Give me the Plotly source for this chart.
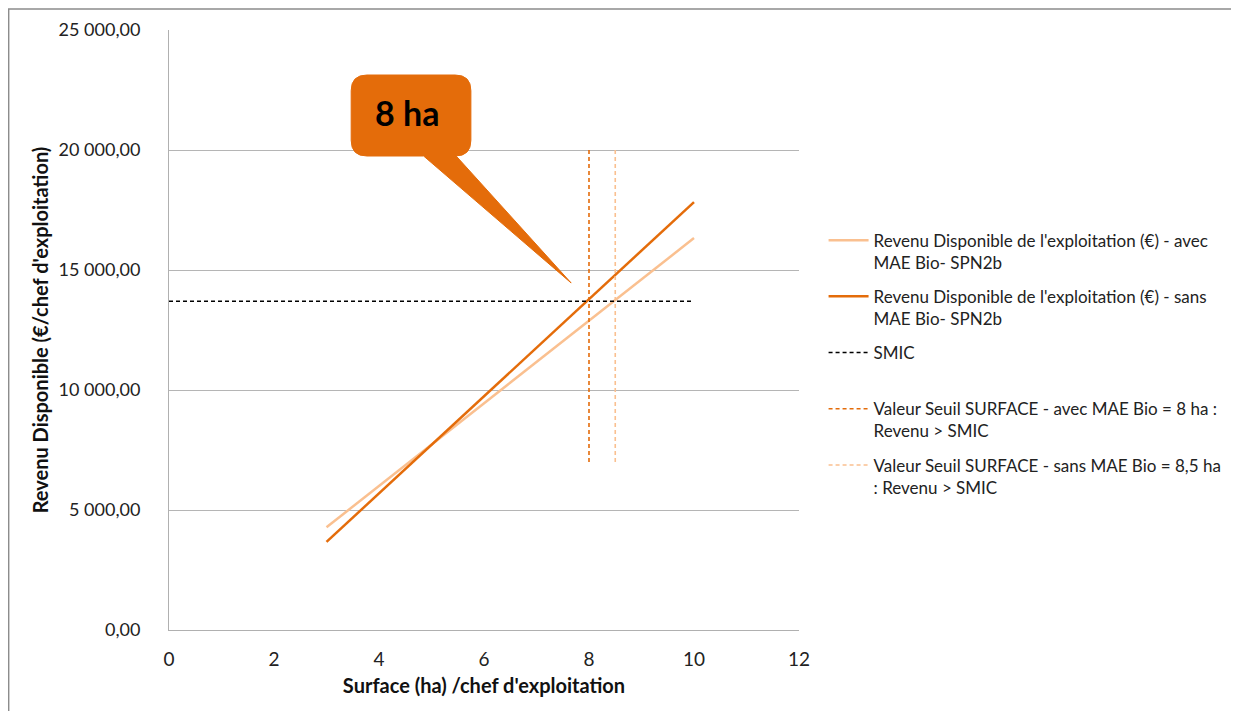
import plotly.graph_objects as go

# ---- data ----
surface = [3, 10]
revenu_avec = [4280, 16330]
revenu_sans = [3670, 17830]
smic_x = [0, 10]
smic_y = [13700, 13700]
seuil_avec_x = [8, 8]
seuil_sans_x = [8.5, 8.5]
seuil_y = [7000, 20000]
x_ticks = [0, 2, 4, 6, 8, 10, 12]
y_ticks = [0, 5000, 10000, 15000, 20000, 25000]
callout_text = "8 ha"
callout_tip = (7.66, 14460)

DARK = "#E46C0A"
LIGHT = "#FAC090"
FONT = "Lato"

names = [
    "Revenu Disponible de l'exploitation (€) - avec<br>MAE Bio- SPN2b",
    "Revenu Disponible de l'exploitation (€) - sans<br>MAE Bio- SPN2b",
    "SMIC<br>&nbsp;",
    "Valeur Seuil SURFACE - avec MAE Bio = 8 ha :<br>Revenu > SMIC",
    "Valeur Seuil SURFACE - sans MAE Bio = 8,5 ha<br>: Revenu > SMIC",
]

fig = go.Figure()
fig.add_trace(go.Scatter(x=surface, y=revenu_avec, mode="lines", name=names[0],
                         legendgroup="g1", line=dict(color=LIGHT, width=2.5)))
fig.add_trace(go.Scatter(x=surface, y=revenu_sans, mode="lines", name=names[1],
                         legendgroup="g2", line=dict(color=DARK, width=2.5)))
fig.add_trace(go.Scatter(x=smic_x, y=smic_y, mode="lines", name=names[2],
                         legendgroup="g3",
                         line=dict(color="black", width=1.6, dash="4px,3px")))
fig.add_trace(go.Scatter(x=seuil_avec_x, y=seuil_y, mode="lines", name=names[3],
                         legendgroup="g4",
                         line=dict(color=DARK, width=1.6, dash="4px,3px")))
fig.add_trace(go.Scatter(x=seuil_sans_x, y=seuil_y, mode="lines", name=names[4],
                         legendgroup="g5",
                         line=dict(color=LIGHT, width=1.6, dash="4px,3px")))

# callout shape (data coordinates)
x0, x1 = 3.47, 5.75
y0, y1 = 19750, 23125
rx, ry = 0.30, 650
bx0, bx1 = 4.85, 5.47
tx, ty = callout_tip
path = (f"M {x0+rx},{y1} L {x1-rx},{y1} Q {x1},{y1} {x1},{y1-ry} "
        f"L {x1},{y0+ry} Q {x1},{y0} {x1-rx},{y0} "
        f"L {bx1},{y0} L {tx},{ty} L {bx0},{y0} "
        f"L {x0+rx},{y0} Q {x0},{y0} {x0},{y0+ry} "
        f"L {x0},{y1-ry} Q {x0},{y1} {x0+rx},{y1} Z")
fig.add_shape(type="path", path=path, xref="x", yref="y",
              fillcolor=DARK, line=dict(color=DARK, width=1), layer="above")
fig.add_annotation(x=4.53, y=21570, xref="x", yref="y",
                   text=f"<b>{callout_text}</b>", showarrow=False,
                   font=dict(family=FONT, size=34, color="black"))

# outer border
fig.add_shape(type="rect", xref="paper", yref="paper",
              x0=-0.2545, x1=1.9, y0=-0.3, y1=1.035,
              line=dict(color="#8c8c8c", width=1.5), fillcolor="rgba(0,0,0,0)")

fig.update_layout(
    width=1231, height=703,
    margin=dict(l=161, r=440, t=22, b=81, autoexpand=False),
    paper_bgcolor="white", plot_bgcolor="white",
    separators=", ",
    font=dict(family=FONT, size=18, color="#222222"),
    showlegend=True,
    legend=dict(x=1.039, y=0.679, xanchor="left", yanchor="top",
                valign="top", font=dict(family=FONT, size=17, color="#222222"),
                itemwidth=40, tracegroupgap=9, bgcolor="rgba(0,0,0,0)"),
    xaxis=dict(range=[0, 12], tickvals=x_ticks, showgrid=False,
               showline=True, linecolor="#b0b0b0", linewidth=1,
               ticks="", zeroline=False, ticklabelstandoff=12,
               tickfont=dict(family=FONT, size=19, color="#222222"),
               title=dict(text="<b>Surface (ha) /chef d'exploitation</b>",
                          font=dict(family=FONT, size=20, color="#111111"),
                          standoff=10)),
    yaxis=dict(range=[0, 25000], tickvals=y_ticks, tickformat=",.2f",
               showgrid=True, gridcolor="#b5b5b5", gridwidth=1,
               showline=True, linecolor="#b0b0b0", linewidth=1,
               ticks="", zeroline=False, ticklabelstandoff=24,
               tickfont=dict(family=FONT, size=18, color="#222222"),
               title=dict(text="<b>Revenu Disponible (€/chef d'exploitation)</b>",
                          font=dict(family=FONT, size=20, color="#111111"),
                          standoff=4)),
)

fig.write_html("out.html")
